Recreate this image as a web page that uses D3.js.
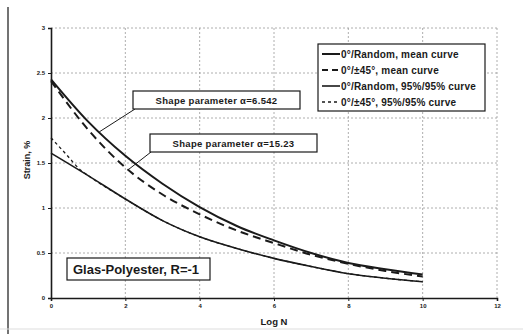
<!DOCTYPE html>
<html>
<head>
<meta charset="utf-8">
<script src="https://cdn.jsdelivr.net/npm/d3@7/dist/d3.min.js"></script>
<style>
  body { margin: 0; background: #fff; }
  svg { display: block; }
</style>
</head>
<body>
<div id="chart"></div>
<script>
// valores (Log N -> deformación %)
const logN = [0, 1, 2, 3, 4, 5, 6, 7, 8, 9, 10];
const randomMedia = [2.43, 1.96, 1.58, 1.27, 1.01, 0.80, 0.64, 0.50, 0.39, 0.32, 0.26];
const pm45Media = [2.41, 1.87, 1.45, 1.15, 0.93, 0.75, 0.61, 0.48, 0.38, 0.30, 0.24];
const random9595 = [1.61, 1.36, 1.10, 0.86, 0.68, 0.55, 0.44, 0.35, 0.27, 0.22, 0.18];
const logNpm45 = [0, 0.4, 0.8, 1, 2, 3, 4, 5, 6, 7, 8, 9, 10];
const pm45_9595 = [1.78, 1.60, 1.42, 1.36, 1.10, 0.86, 0.68, 0.55, 0.44, 0.35, 0.27, 0.22, 0.18];

const xTicks = [0, 2, 4, 6, 8, 10, 12];
const yTicks = [0, 0.5, 1, 1.5, 2, 2.5, 3];

const leyenda = [
  "0°/Random, mean curve",
  "0°/±45°, mean curve",
  "0°/Random, 95%/95% curve",
  "0°/±45°, 95%/95% curve"
];

const width = 523, height = 334;
const fuente = "'Liberation Sans', Arial, sans-serif";
const tinta = "#1a1a1a";

const svg = d3.select("#chart").append("svg")
  .attr("width", width).attr("height", height);

// marco escaneado
svg.append("line").attr("x1", 8).attr("x2", 8).attr("y1", 7).attr("y2", height)
  .attr("stroke", "#444").attr("stroke-width", 1.5);
svg.append("line").attr("x1", 0).attr("x2", width).attr("y1", 329).attr("y2", 329)
  .attr("stroke", "#ddd").attr("stroke-width", 1);

const x = d3.scaleLinear().domain([0, 12]).range([51, 497]);
const y = d3.scaleLinear().domain([0, 3]).range([298, 28]);

// rejilla punteada
svg.append("g").selectAll("line").data(yTicks.filter(d => d > 0)).join("line")
  .attr("x1", x(0)).attr("x2", x(12))
  .attr("y1", d => y(d)).attr("y2", d => y(d))
  .attr("stroke", "#999").attr("stroke-width", 0.8).attr("stroke-dasharray", "2,2");
svg.append("g").selectAll("line").data(xTicks.filter(d => d > 0)).join("line")
  .attr("x1", d => x(d)).attr("x2", d => x(d))
  .attr("y1", y(0)).attr("y2", y(3))
  .attr("stroke", "#999").attr("stroke-width", 0.8).attr("stroke-dasharray", "2,2");

// ejes
const ejeX = svg.append("g").attr("transform", `translate(0,${y(0)})`)
  .call(d3.axisBottom(x).tickValues(xTicks).tickSize(3).tickPadding(3).tickFormat(d3.format("d")));
const ejeY = svg.append("g").attr("transform", `translate(${x(0)},0)`)
  .call(d3.axisLeft(y).tickValues(yTicks).tickSize(3).tickPadding(3).tickFormat(d3.format("~g")));
[ejeX, ejeY].forEach(e => {
  e.select(".domain").attr("stroke", tinta).attr("stroke-width", 1.6);
  e.selectAll(".tick line").attr("stroke", tinta);
  e.selectAll("text").attr("fill", tinta).attr("font-size", 6)
    .attr("font-weight", "bold").attr("font-family", fuente);
});

const linea = xs => d3.line()
  .x((d, i) => x(xs[i]))
  .y(d => y(d))
  .curve(d3.curveMonotoneX);

const series = [
  { xs: logN, ys: randomMedia, w: 2, dash: null },
  { xs: logN, ys: pm45Media, w: 2, dash: "8,5" },
  { xs: logN, ys: random9595, w: 1.6, dash: null },
  { xs: logNpm45, ys: pm45_9595, w: 1.3, dash: "3,3" }
];

series.forEach(s => {
  svg.append("path").datum(s.ys)
    .attr("d", linea(s.xs))
    .attr("fill", "none")
    .attr("stroke", tinta)
    .attr("stroke-width", s.w)
    .attr("stroke-dasharray", s.dash);
});

// etiquetas del parámetro de forma
function interp(xs, ys, v) { return d3.scaleLinear().domain(xs).range(ys)(v); }
const notas = [
  { texto: "Shape parameter α=6.542", caja: [133, 91, 167, 18], desde: [135, 109], xs: logN, ys: randomMedia, en: 1.3 },
  { texto: "Shape parameter α=15.23", caja: [150, 134, 167, 18], desde: [151, 152], xs: logN, ys: pm45Media, en: 2.08 }
];
notas.forEach(n => {
  svg.append("line")
    .attr("x1", n.desde[0]).attr("y1", n.desde[1])
    .attr("x2", x(n.en)).attr("y2", y(interp(n.xs, n.ys, n.en)))
    .attr("stroke", tinta).attr("stroke-width", 1);
  svg.append("rect")
    .attr("x", n.caja[0]).attr("y", n.caja[1]).attr("width", n.caja[2]).attr("height", n.caja[3])
    .attr("fill", "#fff").attr("stroke", tinta).attr("stroke-width", 1.2);
  svg.append("text")
    .attr("x", n.caja[0] + n.caja[2] / 2).attr("y", n.caja[1] + n.caja[3] / 2 + 3.5)
    .attr("text-anchor", "middle").attr("font-size", 9.5).attr("font-weight", "bold")
    .attr("letter-spacing", 0.3)
    .attr("font-family", fuente).attr("fill", tinta).text(n.texto);
});

// leyenda
const lg = svg.append("g");
lg.append("rect").attr("x", 318).attr("y", 44).attr("width", 167).attr("height", 67)
  .attr("fill", "#fff").attr("stroke", tinta).attr("stroke-width", 1.2);
leyenda.forEach((t, i) => {
  const yy = 54 + i * 16;
  const s = series[i];
  lg.append("line").attr("x1", 322).attr("x2", 340).attr("y1", yy).attr("y2", yy)
    .attr("stroke", tinta).attr("stroke-width", s.w)
    .attr("stroke-dasharray", i === 1 ? "6,4" : s.dash);
  lg.append("text").attr("x", 341).attr("y", yy + 3.5)
    .attr("font-size", 10).attr("font-weight", "bold").attr("font-family", fuente)
    .attr("letter-spacing", 0.2)
    .attr("fill", tinta).text(t);
});

// caja del material
svg.append("rect").attr("x", 67).attr("y", 258).attr("width", 143).attr("height", 22)
  .attr("fill", "#fff").attr("stroke", tinta).attr("stroke-width", 1.2);
svg.append("text").attr("x", 73).attr("y", 274)
  .attr("font-size", 13).attr("font-weight", "bold").attr("font-family", fuente)
  .attr("fill", tinta).text("Glas-Polyester, R=-1");

// títulos de ejes
svg.append("text").attr("x", 274).attr("y", 325).attr("text-anchor", "middle")
  .attr("font-size", 9.5).attr("font-weight", "bold").attr("font-family", fuente)
  .attr("fill", tinta).text("Log N");
svg.append("text").attr("transform", "translate(30,160) rotate(-90)").attr("text-anchor", "middle")
  .attr("font-size", 9).attr("font-weight", "bold").attr("font-family", fuente)
  .attr("fill", tinta).text("Strain, %");
</script>
</body>
</html>
